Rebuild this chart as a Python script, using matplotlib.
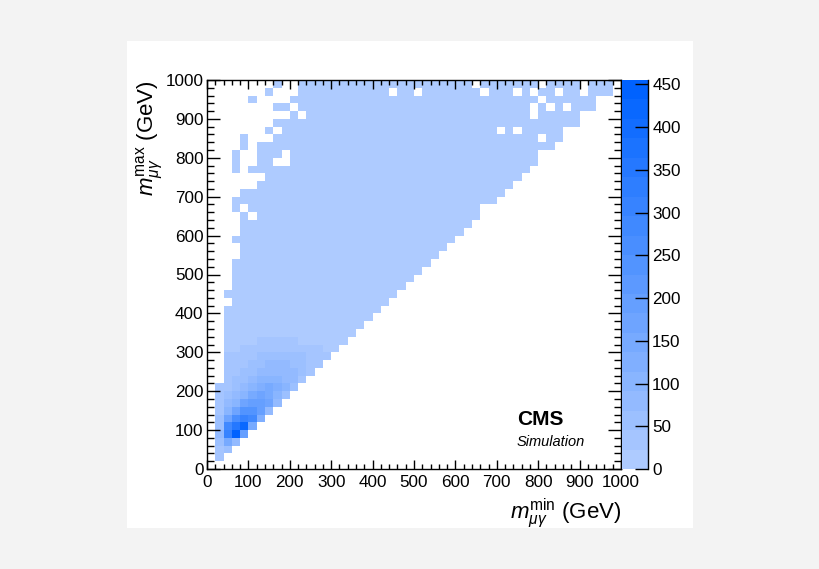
import numpy as np
import matplotlib
matplotlib.use("Agg")
import matplotlib.pyplot as plt
from matplotlib.colors import LinearSegmentedColormap, Normalize
from matplotlib.ticker import MultipleLocator
from matplotlib.patches import Rectangle

plt.rcParams['font.family'] = ['Liberation Sans', 'DejaVu Sans']
plt.rcParams['mathtext.fontset'] = 'custom'
plt.rcParams['mathtext.rm'] = 'Liberation Sans'
plt.rcParams['mathtext.it'] = 'Liberation Sans:italic'
plt.rcParams['mathtext.bf'] = 'Liberation Sans:bold'

# 50 x 50 bins of 20 GeV, 0..1000 GeV on both axes
bin_edges = np.arange(0, 1001, 20)
n_bins = 50

# lowest / highest filled row (y bin) of every column (x bin)
col_lo = [None, 1, 2, 3, 4, 5, 6, 7, 8, 9, 10, 11, 12, 13, 14, 15, 16, 17, 18, 19,
          20, 21, 22, 23, 24, 25, 26, 27, 28, 29, 30, 31, 32, 34, 34, 35, 36, 37, 38, 39,
          41, 41, 42, 44, 44, 46, 46, 48, 48, None]
col_hi = [None, 10, 22, 40, 42, 47, 41, 48, 49, 46, 47, 49, 49, 49, 49, 49, 49, 49, 49, 49,
          49, 49, 49, 49, 49, 49, 49, 49, 49, 49, 49, 49, 49, 49, 49, 49, 49, 49, 49, 49,
          49, 49, 49, 49, 49, 49, 49, 49, 49, None]

# empty bins inside the filled band (col, row)
holes = [(2, 21),
         (3, 27), (3, 28), (3, 30), (3, 31), (3, 32), (3, 35), (3, 36), (3, 37),
         (4, 33), (4, 36), (4, 37), (4, 38), (4, 39), (4, 40),
         (5, 32), (5, 36), (5, 37), (5, 39), (5, 40), (5, 41), (5, 42), (5, 43),
         (5, 44), (5, 45), (5, 46),
         (6, 37),
         (7, 42), (7, 44), (7, 45), (7, 46), (7, 47),
         (8, 39), (8, 43), (8, 45), (8, 47), (8, 48),
         (9, 39), (9, 40), (9, 45),
         (10, 46), (11, 45),
         (22, 48), (25, 48), (32, 49), (33, 48), (35, 43), (37, 43), (37, 48),
         (39, 45), (39, 46), (39, 48), (40, 42), (40, 47), (40, 49), (41, 46),
         (42, 48), (43, 46), (45, 48), (45, 49)]

# typical content of a filled bin, per row (used outside the core region)
row_bulk = [30, 30, 30, 30, 30, 30, 30, 30, 30, 30, 30, 30, 30, 30, 24, 21, 20, 19, 18, 18,
            17, 17, 16, 15, 15, 14, 14, 13, 13, 12, 12, 12, 11, 11, 11, 10, 10, 10, 10, 9,
            9, 9, 9, 8, 8, 8, 8, 8, 7, 7]

# core region: rows 1..17 (20-360 GeV), columns 1..13 (20-280 GeV)
core = [
    [30, 0, 0, 0, 0, 0, 0, 0, 0, 0, 0, 0, 0],
    [40, 60, 0, 0, 0, 0, 0, 0, 0, 0, 0, 0, 0],
    [50, 150, 90, 0, 0, 0, 0, 0, 0, 0, 0, 0, 0],
    [70, 300, 455, 200, 0, 0, 0, 0, 0, 0, 0, 0, 0],
    [60, 280, 360, 420, 140, 0, 0, 0, 0, 0, 0, 0, 0],
    [50, 160, 260, 300, 280, 120, 0, 0, 0, 0, 0, 0, 0],
    [40, 100, 170, 230, 250, 200, 90, 0, 0, 0, 0, 0, 0],
    [35, 70, 110, 170, 200, 190, 160, 70, 0, 0, 0, 0, 0],
    [30, 50, 80, 110, 150, 170, 140, 110, 60, 0, 0, 0, 0],
    [25, 45, 60, 80, 110, 130, 140, 120, 100, 50, 0, 0, 0],
    [0, 40, 50, 60, 80, 100, 110, 110, 90, 80, 45, 0, 0],
    [0, 30, 40, 50, 60, 80, 90, 90, 80, 70, 60, 35, 0],
    [0, 28, 32, 45, 50, 60, 70, 75, 70, 60, 55, 45, 30],
    [0, 24, 28, 35, 40, 48, 52, 55, 55, 50, 48, 40, 35],
    [0, 21, 22, 24, 26, 28, 30, 32, 32, 30, 28, 26, 24],
    [0, 20, 21, 22, 22, 23, 24, 24, 24, 23, 22, 22, 21],
    [0, 19, 20, 20, 21, 21, 22, 22, 22, 22, 21, 20, 20],
]

z_max = 455
z_ticks = [0, 50, 100, 150, 200, 250, 300, 350, 400, 450]

# fill the histogram
H = np.zeros((n_bins, n_bins))
for c in range(n_bins):
    if col_lo[c] is None:
        continue
    for r in range(col_lo[c], col_hi[c] + 1):
        H[r, c] = row_bulk[r]
for i, row_vals in enumerate(core):
    for j, v in enumerate(row_vals):
        if v > 0:
            H[i + 1, j + 1] = v
for c, r in holes:
    H[r, c] = 0

cmap = LinearSegmentedColormap.from_list('cms_blue', ['#aecbff', '#0062ff'], N=20)
norm = Normalize(vmin=0, vmax=z_max)

fig = plt.figure(figsize=(8.2, 5.69), dpi=100)
fig.patch.set_facecolor('#f3f3f3')
fig.patches.append(Rectangle((127 / 820, 41 / 569), 566 / 820, 487 / 569,
                             transform=fig.transFigure, facecolor='white',
                             edgecolor='none', zorder=-10))

ax = fig.add_axes([207 / 820, 100 / 569, 414 / 820, 389 / 569])
mesh = ax.pcolormesh(bin_edges, bin_edges, np.ma.masked_equal(H, 0),
                     cmap=cmap, norm=norm, edgecolors='none')
ax.set_xlim(0, 1000)
ax.set_ylim(0, 1000)

ax.xaxis.set_major_locator(MultipleLocator(100))
ax.xaxis.set_minor_locator(MultipleLocator(20))
ax.yaxis.set_major_locator(MultipleLocator(100))
ax.yaxis.set_minor_locator(MultipleLocator(20))
ax.tick_params(which='both', direction='in', top=True, right=True, width=1,
               labelsize=12.3, color='black')
ax.tick_params(axis='x', which='major', length=6.5, pad=4)
ax.tick_params(axis='x', which='minor', length=3.6)
ax.tick_params(axis='y', which='major', length=9.4, pad=2.5)
ax.tick_params(axis='y', which='minor', length=4.7)
for s in ax.spines.values():
    s.set_linewidth(1.0)

ax.text(1.0, -0.126, r'$m_{\mu\gamma}^{\mathrm{min}}$ (GeV)', transform=ax.transAxes,
        ha='right', va='baseline', fontsize=16)
ax.text(-0.1377, 1.0, r'$m_{\mu\gamma}^{\mathrm{max}}$ (GeV)', transform=ax.transAxes,
        ha='center', va='top', rotation=90, fontsize=16)

ax.text(0.7488, 0.1131, 'CMS', transform=ax.transAxes, fontsize=15,
        fontweight='bold', ha='left', va='baseline')
ax.text(0.7488, 0.0599, 'Simulation', transform=ax.transAxes, fontsize=10.5,
        fontstyle='italic', ha='left', va='baseline')

cax = fig.add_axes([622.5 / 820, 100 / 569, 25.5 / 820, 389 / 569])
cb = fig.colorbar(mesh, cax=cax, ticks=z_ticks)
cb.outline.set_visible(False)
cax.tick_params(direction='in', length=9.4, width=1, labelsize=12.3, pad=3)
cax.minorticks_off()
cax.plot([1, 1], [0, 1], transform=cax.transAxes, color='black', lw=1.0,
         clip_on=False)

fig.savefig('out.png', dpi=100, facecolor=fig.get_facecolor())
